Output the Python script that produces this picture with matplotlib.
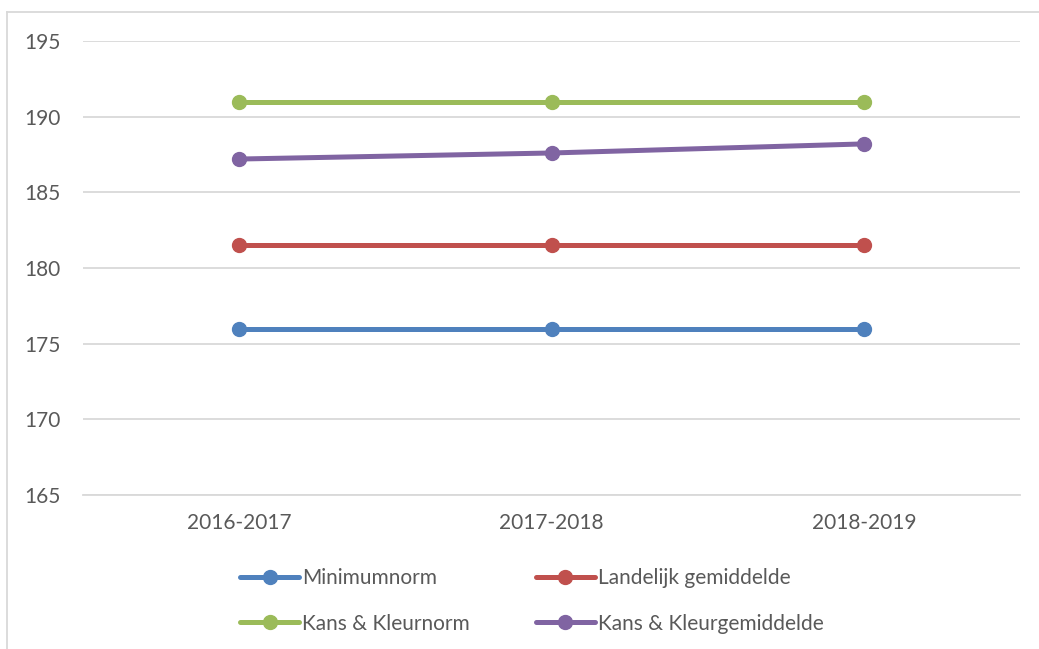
import matplotlib
matplotlib.use("Agg")
import matplotlib.pyplot as plt
from matplotlib.lines import Line2D

categories = ["2016-2017", "2017-2018", "2018-2019"]
series_names = ["Minimumnorm", "Landelijk gemiddelde", "Kans & Kleurnorm", "Kans & Kleurgemiddelde"]
minimumnorm = [176, 176, 176]
landelijk = [181.5, 181.5, 181.5]
kk_norm = [191, 191, 191]
kk_gem = [187.2, 187.6, 188.2]
yticks = [165, 170, 175, 180, 185, 190, 195]

colors = ["#4F81BD", "#C0504D", "#9BBB59", "#8064A2"]
series = [minimumnorm, landelijk, kk_norm, kk_gem]

plt.rcParams['font.family'] = ['Lato', 'DejaVu Sans']
txt = "#595959"
fs = 15

fig = plt.figure(figsize=(10.39, 6.49), dpi=100)
ax = fig.add_axes([83/1039, 1-495/649, (1020-83)/1039, (495-41)/649])

x = list(range(len(categories)))
handles = []
for name, vals, c in zip(series_names, series, colors):
    h, = ax.plot(x, vals, color=c, lw=3.6, marker='o', ms=10, solid_capstyle='round', label=name, zorder=3)
    handles.append(h)

ax.set_xlim(-0.5, 2.5)
ax.set_ylim(165, 195)
ax.set_yticks(yticks)
ax.set_xticks(x)
ax.set_xticklabels(categories)
ax.grid(axis='y', color='#D9D9D9', lw=1.3)
ax.set_axisbelow(True)
for s in ['top', 'right', 'left']:
    ax.spines[s].set_visible(False)
ax.spines['bottom'].set_color('#D9D9D9')
ax.spines['bottom'].set_linewidth(1.3)
ax.tick_params(axis='both', length=0, labelsize=fs, colors=txt)
ax.tick_params(axis='y', pad=16)
ax.tick_params(axis='x', pad=13)

leg = fig.legend([handles[i] for i in [0, 2, 1, 3]], [series_names[i] for i in [0, 2, 1, 3]],
                 ncol=2, loc='center', bbox_to_anchor=(532/1039, 1-601/649),
                 frameon=False, fontsize=fs, handlelength=2.8, handletextpad=0.15,
                 columnspacing=3.2, labelspacing=1.2, markerscale=1.0)
for t in leg.get_texts():
    t.set_color(txt)

# chart border (top and left visible)
fig.add_artist(Line2D([7/1039, 1], [1-12/649, 1-12/649], color='#D9D9D9', lw=1.3, transform=fig.transFigure))
fig.add_artist(Line2D([7/1039, 7/1039], [0, 1-12/649], color='#D9D9D9', lw=1.3, transform=fig.transFigure))

fig.savefig("out.png", dpi=100)
